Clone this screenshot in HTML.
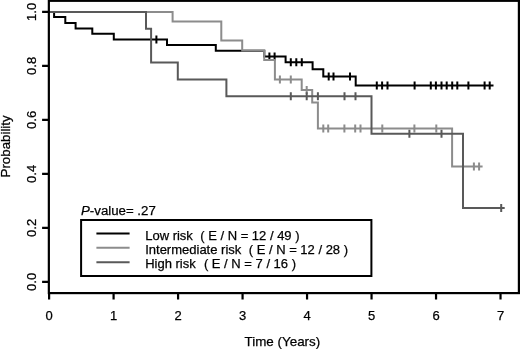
<!DOCTYPE html>
<html><head><meta charset="utf-8"><style>
html,body{margin:0;padding:0;background:#fff;width:520px;height:349px;overflow:hidden}
svg{display:block;will-change:transform}
text{font-family:"Liberation Sans",sans-serif;font-size:13px;fill:#000;stroke:#000;stroke-width:0.25px}
</style></head><body>
<svg width="520" height="349" viewBox="0 0 520 349">
<path d="M49.1,11.9 H54.1 V16.9 H65.3 V22.9 H75.6 V28.6 H92.3 V33.8 H113.8 V39.4 H167.0 V45.1 H215.8 V50.7 H264.3 V56.4 H285.6 V62.3 H312.6 V69.2 H323.3 V76.5 H355.7 V85.4 H493.5" stroke="#000" stroke-width="2.0" fill="none"/>
<path d="M156.4,35.4V43.4M269.4,52.4V60.4M274.6,52.4V60.4M290.8,58.3V66.3M296.3,58.3V66.3M301.8,58.3V66.3M328.7,72.5V80.5M333.5,72.5V80.5M350.0,72.5V80.5M376.8,81.4V89.4M382.1,81.4V89.4M387.5,81.4V89.4M414.6,81.4V89.4M430.8,81.4V89.4M435.9,81.4V89.4M441.5,81.4V89.4M446.7,81.4V89.4M452.2,81.4V89.4M457.3,81.4V89.4M468.4,81.4V89.4M484.6,81.4V89.4M489.7,81.4V89.4" stroke="#000" stroke-width="2.0" fill="none"/>
<path d="M49.1,11.9 H172.6 V21.4 H221.3 V40.4 H242.2 V50.5 H264.2 V59.9 H274.9 V79.4 H301.7 V90.0 H312.2 V102.4 H317.9 V128.6 H452.1 V166.5 H482.6" stroke="#8c8c8c" stroke-width="2.0" fill="none"/>
<path d="M279.9,75.4V83.4M290.8,75.4V83.4M306.7,86.0V94.0M323.3,124.6V132.6M328.2,124.6V132.6M344.4,124.6V132.6M355.2,124.6V132.6M360.5,124.6V132.6M382.3,124.6V132.6M414.4,124.6V132.6M436.3,124.6V132.6M473.9,162.5V170.5M479.1,162.5V170.5" stroke="#8c8c8c" stroke-width="2.0" fill="none"/>
<path d="M49.1,11.9 H146.0 V28.8 H151.1 V62.5 H177.8 V79.4 H226.4 V96.3 H371.5 V133.7 H463.0 V207.95 H504.7" stroke="#595959" stroke-width="2.0" fill="none"/>
<path d="M290.8,92.3V100.3M306.7,92.3V100.3M317.9,92.3V100.3M344.5,92.3V100.3M355.5,92.3V100.3M409.4,129.7V137.7M441.5,129.7V137.7M501.2,203.95V211.95" stroke="#595959" stroke-width="2.0" fill="none"/>
<rect x="48.85" y="0.8" width="470.04999999999995" height="292.3" stroke="#000" stroke-width="2.2" fill="none"/>
<path d="M49.10,293.1V299.6M113.59,293.1V299.6M178.08,293.1V299.6M242.57,293.1V299.6M307.06,293.1V299.6M371.55,293.1V299.6M436.04,293.1V299.6M500.53,293.1V299.6" stroke="#000" stroke-width="2.2" fill="none"/>
<path d="M42.1,281.90H48.85M42.1,227.90H48.85M42.1,173.90H48.85M42.1,119.90H48.85M42.1,65.90H48.85M42.1,11.90H48.85" stroke="#000" stroke-width="2.2" fill="none"/>
<text x="49.10" y="319.8" text-anchor="middle">0</text>
<text x="113.59" y="319.8" text-anchor="middle">1</text>
<text x="178.08" y="319.8" text-anchor="middle">2</text>
<text x="242.57" y="319.8" text-anchor="middle">3</text>
<text x="307.06" y="319.8" text-anchor="middle">4</text>
<text x="371.55" y="319.8" text-anchor="middle">5</text>
<text x="436.04" y="319.8" text-anchor="middle">6</text>
<text x="500.53" y="319.8" text-anchor="middle">7</text>
<text transform="translate(36,281.90) rotate(-90)" text-anchor="middle">0.0</text>
<text transform="translate(36,227.90) rotate(-90)" text-anchor="middle">0.2</text>
<text transform="translate(36,173.90) rotate(-90)" text-anchor="middle">0.4</text>
<text transform="translate(36,119.90) rotate(-90)" text-anchor="middle">0.6</text>
<text transform="translate(36,65.90) rotate(-90)" text-anchor="middle">0.8</text>
<text transform="translate(36,11.90) rotate(-90)" text-anchor="middle">1.0</text>
<text x="282.4" y="345.5" text-anchor="middle" style="font-size:13.4px">Time (Years)</text>
<text transform="translate(10,146.4) rotate(-90)" text-anchor="middle" style="font-size:13.3px">Probability</text>
<text x="81" y="215.3" style="font-size:13.25px"><tspan font-style="italic">P</tspan>-value= .27</text>
<rect x="81.1" y="220.0" width="290.3" height="56" stroke="#000" stroke-width="2" fill="none"/>
<path d="M96.4,233.4H129.6" stroke="#000" stroke-width="2.0" fill="none"/>
<text x="145.2" y="239.8">Low risk</text>
<text x="200.2" y="239.8">( E / N = 12 / 49 )</text>
<path d="M96.4,247.8H129.6" stroke="#8c8c8c" stroke-width="2.0" fill="none"/>
<text x="145.2" y="254.0">Intermediate risk</text>
<text x="248.7" y="254.0">( E / N = 12 / 28 )</text>
<path d="M96.4,262.3H129.6" stroke="#595959" stroke-width="2.0" fill="none"/>
<text x="145.2" y="268.3">High risk</text>
<text x="203.89999999999998" y="268.3">( E / N = 7 / 16 )</text>
</svg>
</body></html>
